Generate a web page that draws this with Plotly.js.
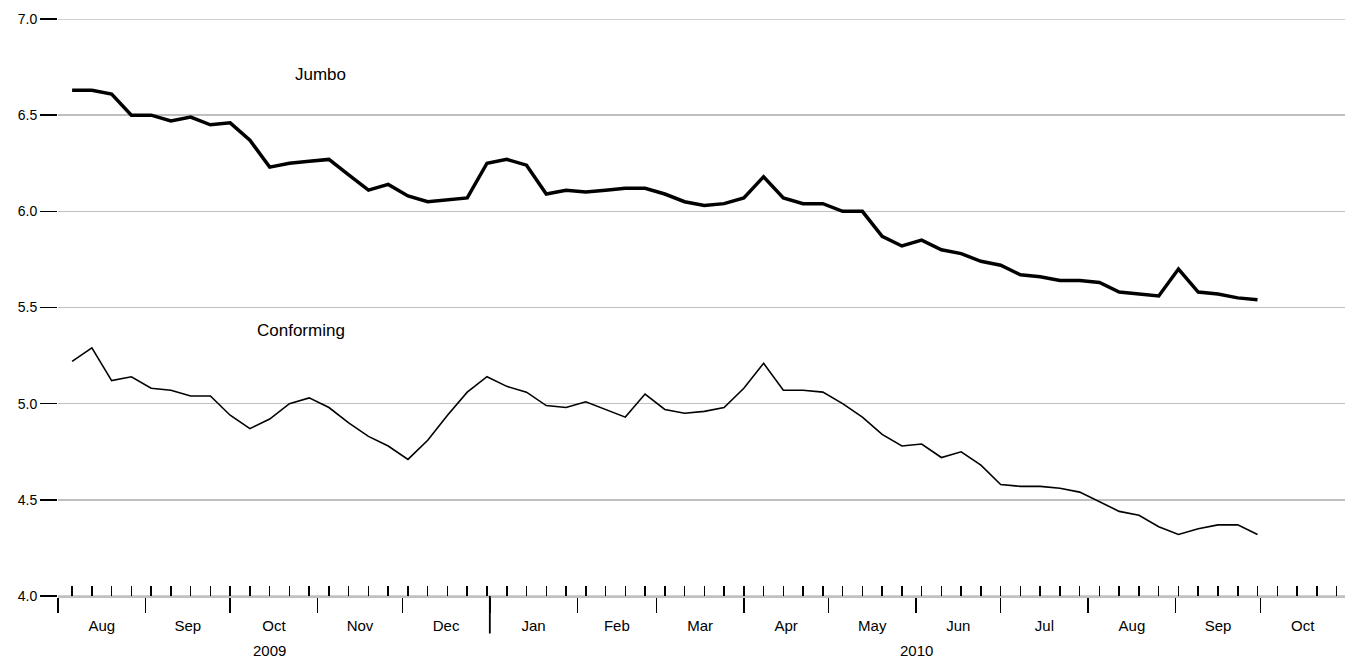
<!DOCTYPE html>
<html><head><meta charset="utf-8">
<script src="https://cdn.plot.ly/plotly-3.0.1.min.js"></script>
<style>body{margin:0;background:#fff}</style></head>
<body><div id="chart" style="width:1351px;height:660px"></div>
<script>
const firstWeek = '2009-08-06';
const weekCount = 61;
const jumbo = [6.63,6.63,6.61,6.50,6.50,6.47,6.49,6.45,6.46,6.37,6.23,6.25,6.26,6.27,6.19,6.11,6.14,6.08,6.05,6.06,6.07,
  6.25,6.27,6.24,6.09,6.11,6.10,6.11,6.12,6.12,6.09,6.05,6.03,6.04,6.07,6.18,6.07,6.04,6.04,6.00,6.00,
  5.87,5.82,5.85,5.80,5.78,5.74,5.72,5.67,5.66,5.64,5.64,5.63,5.58,5.57,5.56,5.70,5.58,5.57,5.55,5.54];
const conforming = [5.22,5.29,5.12,5.14,5.08,5.07,5.04,5.04,4.94,4.87,4.92,5.00,5.03,4.98,4.90,4.83,4.78,4.71,4.81,4.94,5.06,
  5.14,5.09,5.06,4.99,4.98,5.01,4.97,4.93,5.05,4.97,4.95,4.96,4.98,5.08,5.21,5.07,5.07,5.06,5.00,4.93,
  4.84,4.78,4.79,4.72,4.75,4.68,4.58,4.57,4.57,4.56,4.54,4.49,4.44,4.42,4.36,4.32,4.35,4.37,4.37,4.32];
const yTicks = [4.0,4.5,5.0,5.5,6.0,6.5,7.0];
const seriesLabels = ['Jumbo','Conforming'];
const yearLabels = ['2009','2010'];

const dates = [];
const t0 = Date.UTC(2009,7,6);
for (let i=0;i<weekCount;i++){ dates.push(new Date(t0+i*7*86400000).toISOString().slice(0,10)); }

const FONT = 'Liberation Sans, Arial, sans-serif';
const traces = [
  {x:dates,y:jumbo,mode:'lines',line:{color:'#000',width:3.5},hoverinfo:'skip'},
  {x:dates,y:conforming,mode:'lines',line:{color:'#000',width:1.6},hoverinfo:'skip'}
];
const layout = {
  width:1351,height:660,showlegend:false,
  margin:{l:58,r:6,t:19,b:64},
  paper_bgcolor:'#fff',plot_bgcolor:'#fff',
  font:{family:FONT,size:15,color:'#000'},
  xaxis:{type:'date',range:['2009-08-01','2010-10-31'],
    dtick:'M1',tick0:'2009-08-01',tickformat:'%b',ticklabelmode:'period',
    ticks:'outside',ticklen:15,tickwidth:1.5,tickcolor:'#000',
    showgrid:false,zeroline:false,showline:true,linecolor:'#c0c0c0',linewidth:1.5,
    tickfont:{family:FONT,size:15},
    minor:{ticks:'inside',dtick:7*86400000,tick0:firstWeek,ticklen:10,tickwidth:1.5,tickcolor:'#000',showgrid:false}},
  yaxis:{range:[4,7],tickvals:yTicks,ticktext:yTicks.map(v=>v.toFixed(1)),
    ticks:'outside',ticklen:17,tickwidth:1.5,tickcolor:'#000',
    showgrid:true,gridcolor:'#c0c0c0',gridwidth:1.5,zeroline:false,showline:false,
    tickfont:{family:FONT,size:14}},
  shapes:[
    {type:'line',xref:'x',yref:'paper',x0:'2010-01-01',x1:'2010-01-01',y0:0,y1:-0.065,line:{color:'#000',width:1.8}},
    {type:'line',xref:'paper',yref:'y',x0:0,x1:1,y0:7,y1:7,line:{color:'#c0c0c0',width:1.5}},
    {type:'line',xref:'paper',yref:'y',x0:0,x1:1,y0:4,y1:4,line:{color:'#c0c0c0',width:1.5},layer:'below'}
  ],
  annotations:[
    {xref:'x',yref:'y',x:'2009-11-02',y:6.71,text:seriesLabels[0],showarrow:false,font:{size:17}},
    {xref:'x',yref:'y',x:'2009-10-26',y:5.38,text:seriesLabels[1],showarrow:false,font:{size:17}},
    {xref:'x',yref:'paper',x:'2009-10-15',y:-0.094,yanchor:'middle',text:yearLabels[0],showarrow:false,font:{size:15}},
    {xref:'x',yref:'paper',x:'2010-06-01',y:-0.094,yanchor:'middle',text:yearLabels[1],showarrow:false,font:{size:15}}
  ]
};
Plotly.newPlot('chart',traces,layout,{staticPlot:true});
</script></body></html>
